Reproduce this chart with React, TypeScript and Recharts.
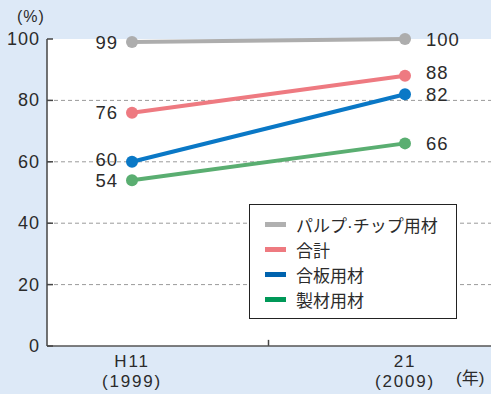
import React from "react";
import { LineChart, Line, XAxis, YAxis, CartesianGrid, ReferenceLine, LabelList } from "recharts";

const eraLabels = ["H11", "21"];
const yearLabels = ["(1999)", "(2009)"];
const yTicks = [0, 20, 40, 60, 80, 100];

const pulp = [99, 100];
const total = [76, 88];
const plywood = [60, 82];
const lumber = [54, 66];

const seriesNames = ["パルプ·チップ用材", "合計", "合板用材", "製材用材"];
const lineColors = ["#adadad", "#ee7a81", "#0a78c6", "#5aae71"];
const swatchColors = ["#b0b0b0", "#ee7a80", "#0063ae", "#009858"];

const data = eraLabels.map((era, i) => ({
  idx: i,
  pulp: pulp[i],
  total: total[i],
  plywood: plywood[i],
  lumber: lumber[i],
}));

const FONT = '"Liberation Sans", "Noto Sans CJK JP", sans-serif';
const TEXT = "#2b2b2b";

const YTick = (props: any) => {
  const { x, y, payload } = props;
  return (
    <g>
      <line x1={x} x2={x + 6} y1={y} y2={y} stroke="#444" strokeWidth={1.5} />
      <text
        x={x - 7}
        y={y}
        textAnchor="end"
        dominantBaseline="central"
        fontSize={18}
        letterSpacing={1}
        fill={TEXT}
        fontFamily={FONT}
      >
        {payload.value}
      </text>
    </g>
  );
};

const XTick = (props: any) => {
  const { x, y, payload } = props;
  const i = payload.value;
  return (
    <text x={x} textAnchor="middle" fontSize={17} letterSpacing={1.8} fill={TEXT} fontFamily={FONT}>
      <tspan x={x} y={y + 21}>{eraLabels[i]}</tspan>
      <tspan x={x} y={y + 41}>{yearLabels[i]}</tspan>
    </text>
  );
};

const makeLabel = (dys: number[]) => (props: any) => {
  const { x, y, value, index } = props;
  const left = index === 0;
  return (
    <text
      x={left ? x - 14 : x + 21}
      y={y + dys[index]}
      textAnchor={left ? "end" : "start"}
      dominantBaseline="central"
      fontSize={18.5}
      letterSpacing={1}
      fill={TEXT}
      fontFamily={FONT}
    >
      {value}
    </text>
  );
};

const LegendBox = () => (
  <div
    style={{
      position: "absolute",
      left: 249,
      top: 204,
      border: "1.5px solid #222",
      background: "#fff",
      width: 208,
      height: 115,
      boxSizing: "border-box",
      paddingTop: 7,
      fontFamily: FONT,
    }}
  >
    {seriesNames.map((name, i) => (
      <div key={name} style={{ display: "flex", alignItems: "center", height: 25 }}>
        <div style={{ width: 21, height: 5, background: swatchColors[i], marginLeft: 15, marginRight: 10 }} />
        <span style={{ fontSize: 17, color: TEXT }}>{name}</span>
      </div>
    ))}
  </div>
);

const keys = ["pulp", "total", "plywood", "lumber"];
const labelOffsets = [
  [0, 0],
  [0, -3],
  [-2, 0],
  [0, 0],
];

export default function App() {
  return (
    <div style={{ position: "absolute", left: 0, top: 0, width: 491, height: 394, background: "#dde9f7" }}>
      <div style={{ position: "absolute", left: 17, top: 8, fontSize: 16, letterSpacing: 1, color: TEXT, fontFamily: FONT }}>
        (%)
      </div>
      <div style={{ position: "absolute", left: 456, top: 364, fontSize: 17, color: TEXT, fontFamily: FONT }}>(年)</div>
      <LineChart width={491} height={394} data={data} margin={{ top: 39, right: 0, left: 0, bottom: 0 }}>
        <CartesianGrid
          fill="#ffffff"
          vertical={false}
          horizontalValues={[20, 40, 60, 80]}
          stroke="#9a9a9a"
          strokeDasharray="4 3"
        />
        <XAxis
          dataKey="idx"
          type="number"
          domain={[0, 1]}
          ticks={[0, 1]}
          padding={{ left: 85, right: 86 }}
          tickLine={false}
          tickSize={0}
          tickMargin={0}
          tick={<XTick />}
          stroke="#555"
          strokeWidth={1.5}
          height={48}
        />
        <YAxis
          type="number"
          domain={[0, 100]}
          ticks={yTicks}
          width={47}
          tickLine={false}
          tickSize={0}
          tickMargin={0}
          tick={<YTick />}
          stroke="#444"
          strokeWidth={1.5}
          interval={0}
        />
        <ReferenceLine
          segment={[
            { x: 0.5, y: 0 },
            { x: 0.5, y: 2 },
          ]}
          stroke="#444"
          strokeWidth={1.5}
        />
        {keys.map((k, i) => (
          <Line
            key={k}
            dataKey={k}
            name={seriesNames[i]}
            stroke={lineColors[i]}
            strokeWidth={4}
            dot={{ r: 6, fill: lineColors[i], stroke: "none" }}
            isAnimationActive={false}
          >
            <LabelList dataKey={k} content={makeLabel(labelOffsets[i])} />
          </Line>
        ))}
      </LineChart>
      <LegendBox />
    </div>
  );
}
